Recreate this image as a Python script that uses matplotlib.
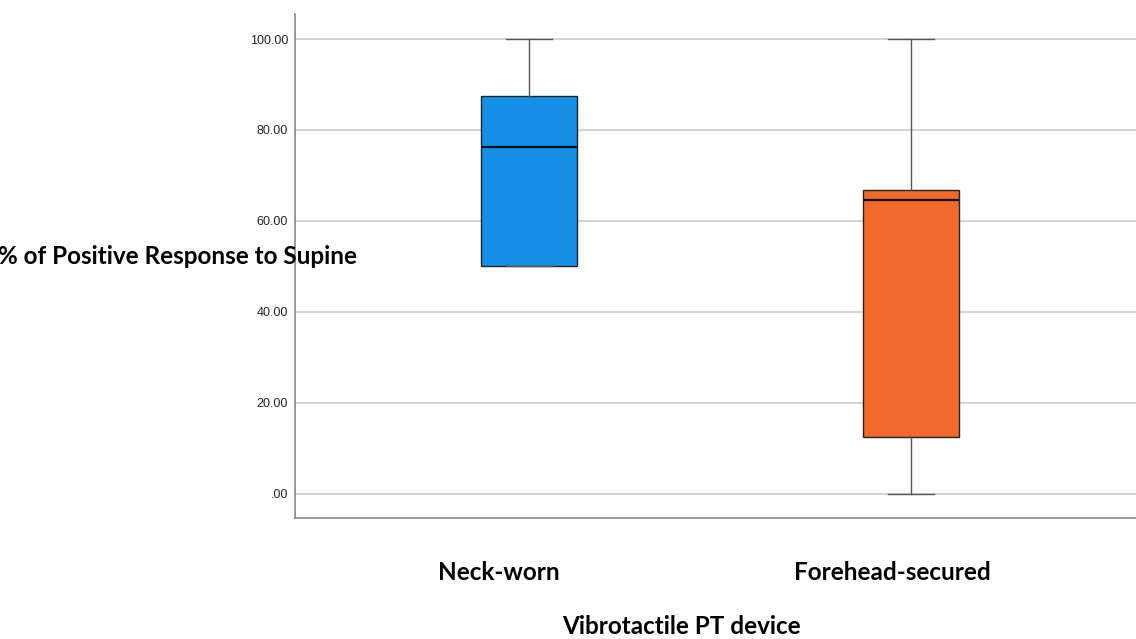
import matplotlib
matplotlib.use("Agg")
import matplotlib.pyplot as plt

# box statistics
groups = ["Neck-worn", "Forehead-secured"]
whisker_low = [50.0, 0.0]
q1 = [50.0, 12.5]
median = [76.3, 64.6]
q3 = [87.5, 66.8]
whisker_high = [100.0, 100.0]
colors = ["#1491E6", "#F2692B"]

stats = []
for i, g in enumerate(groups):
    stats.append({
        'label': g,
        'whislo': whisker_low[i],
        'q1': q1[i],
        'med': median[i],
        'q3': q3[i],
        'whishi': whisker_high[i],
        'fliers': [],
    })

fig = plt.figure(figsize=(11.36, 6.39), dpi=100)
ax = fig.add_axes([295 / 1136, 1 - 518 / 639, 841 / 1136, 504 / 639])

ax.yaxis.grid(True, color='#d4d4d4', linewidth=1.5, zorder=0)
ax.set_axisbelow(True)

bp = ax.bxp(stats, positions=[0, 1], widths=0.25, patch_artist=True,
            showfliers=False,
            boxprops=dict(edgecolor='#222222', linewidth=1.0),
            medianprops=dict(color='#111111', linewidth=1.6),
            whiskerprops=dict(color='#555555', linewidth=1.0),
            capprops=dict(color='#555555', linewidth=1.0),
            capwidths=0.12)
for patch, c in zip(bp['boxes'], colors):
    patch.set_facecolor(c)

ax.set_xlim(-0.613, 1.589)
ax.set_ylim(-5.3, 105.5)
ax.set_yticks([0, 20, 40, 60, 80, 100])
ax.set_yticklabels(['.00', '20.00', '40.00', '60.00', '80.00', '100.00'],
                   fontsize=9, family='Liberation Sans', color='#222222')
ax.tick_params(axis='y', length=0, pad=5)
ax.set_xticks([])

for side in ['top', 'right']:
    ax.spines[side].set_visible(False)
for side in ['left', 'bottom']:
    ax.spines[side].set_color('#888888')
    ax.spines[side].set_linewidth(1.2)

# category labels (SPSS places them slightly left of the boxes)
label_x = [499, 892]
for g, lx in zip(groups, label_x):
    fig.text(lx / 1136, 1 - 572 / 639, g, ha='center', va='center',
             fontsize=17.5, fontweight='bold', family='Lato')

fig.text(681 / 1136, 1 - 627 / 639, "Vibrotactile PT device", ha='center', va='center',
         fontsize=17.5, fontweight='bold', family='Lato')
fig.text(357 / 1136, 1 - 257 / 639, "% of Positive Response to Supine", ha='right', va='center',
         fontsize=17.5, fontweight='bold', family='Lato')

fig.savefig("out.png", dpi=100)
